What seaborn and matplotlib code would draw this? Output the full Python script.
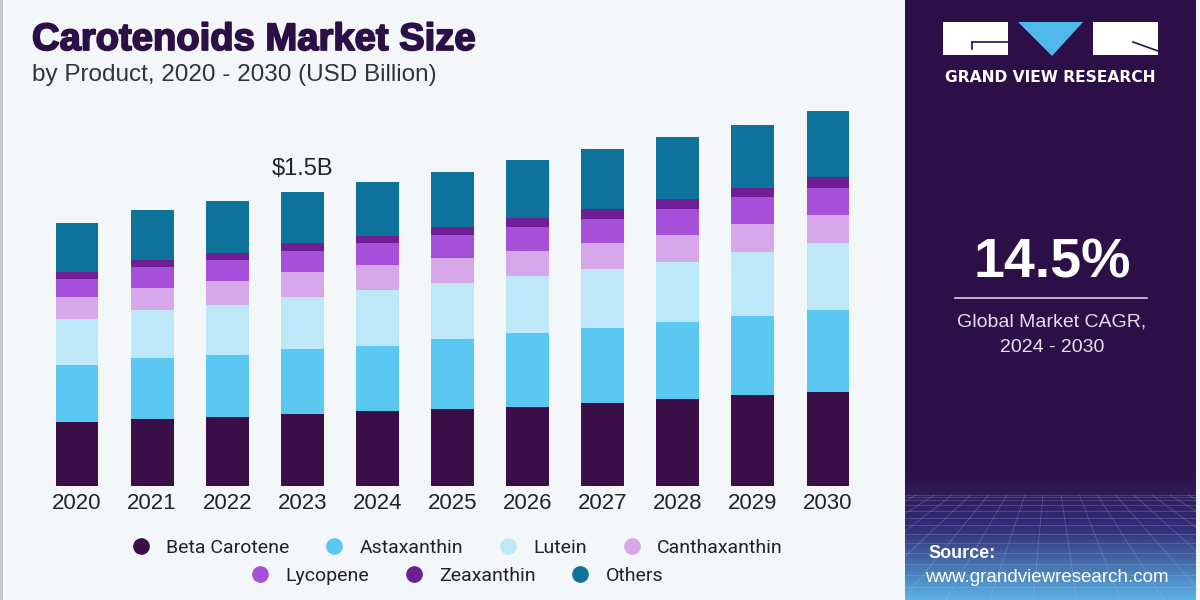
import numpy as np
import pandas as pd
import matplotlib
matplotlib.use("Agg")
import matplotlib.pyplot as plt
import matplotlib.patheffects as pe
import seaborn as sns
from matplotlib.lines import Line2D
from matplotlib.patches import Rectangle, Polygon

years = ["2020", "2021", "2022", "2023", "2024", "2025", "2026", "2027", "2028", "2029", "2030"]
segments = ["Beta Carotene", "Astaxanthin", "Lutein", "Canthaxanthin", "Lycopene", "Zeaxanthin", "Others"]

beta_carotene = [0.325, 0.340, 0.353, 0.367, 0.382, 0.394, 0.404, 0.423, 0.442, 0.462, 0.481]
astaxanthin = [0.292, 0.311, 0.314, 0.331, 0.333, 0.357, 0.377, 0.384, 0.394, 0.406, 0.416]
lutein = [0.236, 0.245, 0.256, 0.267, 0.282, 0.282, 0.291, 0.301, 0.307, 0.323, 0.340]
canthaxanthin = [0.109, 0.115, 0.121, 0.124, 0.129, 0.130, 0.127, 0.133, 0.138, 0.144, 0.146]
lycopene = [0.092, 0.104, 0.107, 0.109, 0.111, 0.117, 0.119, 0.122, 0.129, 0.136, 0.138]
zeaxanthin = [0.036, 0.037, 0.039, 0.039, 0.039, 0.038, 0.047, 0.049, 0.053, 0.049, 0.055]
others = [0.250, 0.255, 0.263, 0.263, 0.275, 0.283, 0.296, 0.304, 0.314, 0.320, 0.333]

colors = ["#3A0F47", "#5BC8F1", "#BEE8F8", "#D6A8EA", "#A64FD8", "#6E1F96", "#0F729A"]

label_2023 = "$1.5B"
cagr = "14.5%"

bg = "#F3F7FA"
panel = "#2C0F47"

df = pd.DataFrame({"Year": years})
for name, vals in zip(segments, [beta_carotene, astaxanthin, lutein, canthaxanthin,
                                 lycopene, zeaxanthin, others]):
    df[name] = vals

# cumulative totals so the bars can be drawn top layer first
cum = df[segments].cumsum(axis=1)

fig = plt.figure(figsize=(12, 6), dpi=100, facecolor=bg)
ax = fig.add_axes([32 / 1200, 0.19, 841 / 1200, 0.654])
ax.set_facecolor("none")

for name, col in reversed(list(zip(segments, colors))):
    sns.barplot(x=df["Year"], y=cum[name], color=col, width=0.57,
                saturation=1, linewidth=0, ax=ax)

ax.set_xlim(-0.6, 10.6)
ax.set_ylim(0, 2.0)
for s in ax.spines.values():
    s.set_visible(False)
ax.set_yticks([])
ax.set_xlabel("")
ax.set_ylabel("")
ax.tick_params(axis="x", length=0, pad=5)
for t in ax.get_xticklabels():
    t.set_fontsize(16)
    t.set_color("#222222")
    t.set_family("Liberation Sans")

total_2023 = cum["Others"][3]
ax.text(3, total_2023 + 0.06, label_2023, ha="center", va="bottom",
        fontsize=17, color="#222222", family="Liberation Sans")

# titles
fig.text(32 / 1200, 1 - 40 / 600, "Carotenoids Market Size", fontsize=27.5,
         fontweight="heavy", color="#2C0F47", va="center", family="Liberation Sans",
         path_effects=[pe.withStroke(linewidth=1.3, foreground="#2C0F47")])
fig.text(32 / 1200, 1 - 75 / 600, "by Product, 2020 - 2030 (USD Billion)", fontsize=17.5,
         color="#333333", va="center", family="Liberation Sans")

# legend in two centred rows
def make_handles(cols):
    return [Line2D([0], [0], marker="o", linestyle="", markersize=11,
                   markerfacecolor=c, markeredgecolor=c) for c in cols]

leg1 = fig.legend(make_handles(colors[:4]), segments[:4], ncol=4,
                  loc="center", bbox_to_anchor=(452 / 1200, 1 - 548 / 600),
                  frameon=False, handletextpad=0.3, columnspacing=1.3,
                  prop={"family": "Roboto", "size": 14})
leg2 = fig.legend(make_handles(colors[4:]), segments[4:], ncol=3,
                  loc="center", bbox_to_anchor=(452 / 1200, 1 - 576 / 600),
                  frameon=False, handletextpad=0.3, columnspacing=1.3,
                  prop={"family": "Roboto", "size": 14})
for lg in (leg1, leg2):
    for t in lg.get_texts():
        t.set_color("#222222")

# left edge line
fig.add_artist(Rectangle((0, 0), 3 / 1200, 1, transform=fig.transFigure,
                         color="#C8C8CC", lw=0))

# right panel
pax = fig.add_axes([905 / 1200, 0, 291 / 1200, 1])
pax.set_xlim(0, 291)
pax.set_ylim(600, 0)
pax.axis("off")

grad = np.zeros((600, 2, 3))
top = np.array(matplotlib.colors.to_rgb(panel))
mid = np.array(matplotlib.colors.to_rgb("#35307A"))
bot = np.array(matplotlib.colors.to_rgb("#5BB4E6"))
for i in range(600):
    if i < 470:
        grad[i, :] = top
    elif i < 530:
        f = (i - 470) / 60
        grad[i, :] = top * (1 - f) + mid * f
    else:
        f = (i - 530) / 70
        grad[i, :] = mid * (1 - f) + bot * f
pax.imshow(grad, extent=(0, 291, 600, 0), aspect="auto", zorder=0)

# perspective grid at the bottom
vx, vy = 145, 420
for k in np.linspace(-700, 1000, 40):
    t0 = (495 - vy) / (600 - vy)
    pax.plot([vx + (k - vx) * t0, k], [495, 600], color="#9FD4F5",
             lw=0.5, alpha=0.3, zorder=1)
for j in range(14):
    yy = 495 + 105 * (j / 13) ** 1.6
    pax.plot([0, 291], [yy, yy], color="#9FD4F5", lw=0.5, alpha=0.3, zorder=1)

# logo
pax.add_patch(Rectangle((38, 22), 65, 33, color="white", lw=0, zorder=3))
pax.plot([67, 103], [42, 42], color=panel, lw=1.2, zorder=4)
pax.plot([67, 67], [42, 49], color=panel, lw=1.2, zorder=4)
pax.add_patch(Polygon([[113, 22], [178, 22], [147, 56]], closed=True,
                      color="#4FB8EC", lw=0, zorder=3))
pax.add_patch(Rectangle((188, 22), 65, 33, color="white", lw=0, zorder=3))
pax.plot([228, 253], [42, 51], color=panel, lw=1.2, zorder=4)
pax.text(145.5, 78, "GRAND VIEW RESEARCH", ha="center", va="center", color="white",
         fontsize=11.2, fontweight="bold", family="DejaVu Sans", zorder=5)

pax.text(147, 263, cagr, ha="center", va="center", color="white", fontsize=40,
         fontweight="bold", family="Liberation Sans", zorder=5)
pax.plot([50, 242], [298, 298], color="#D8CFE6", lw=1.2, zorder=5)
pax.text(147, 322, "Global Market CAGR,", ha="center", va="center", color="#E6E0EE",
         fontsize=14, family="Liberation Sans", zorder=5)
pax.text(147, 347, "2024 - 2030", ha="center", va="center", color="#E6E0EE",
         fontsize=14, family="Liberation Sans", zorder=5)

pax.text(23, 554, "Source:", ha="left", va="center", color="white", fontsize=13,
         fontweight="bold", family="Liberation Sans", zorder=5)
pax.text(20, 578, "www.grandviewresearch.com", ha="left", va="center", color="white",
         fontsize=13.5, family="Liberation Sans", zorder=5)

fig.savefig("out.png", dpi=100, facecolor=bg)
